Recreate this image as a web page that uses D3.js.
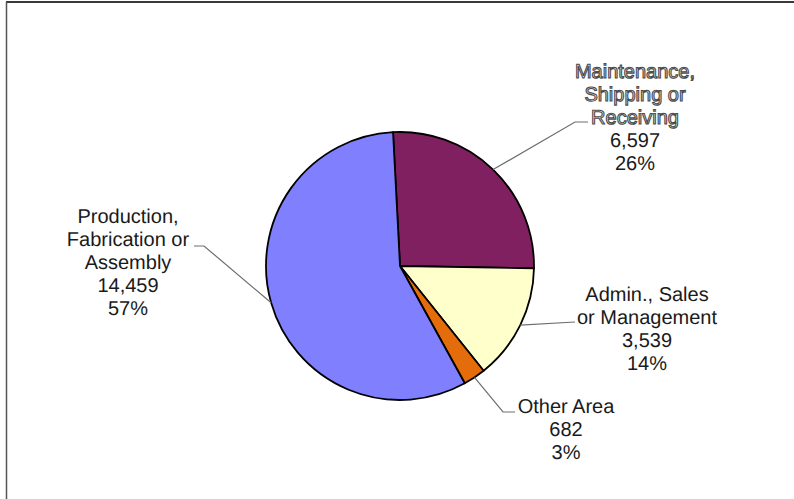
<!DOCTYPE html>
<html>
<head>
<meta charset="utf-8">
<script src="https://cdn.jsdelivr.net/npm/d3@7"></script>
<style>
  html, body { margin: 0; padding: 0; background: #fff; }
  svg { display: block; }
  text { text-rendering: geometricPrecision; }
</style>
</head>
<body>
<svg id="chart" width="794" height="499"></svg>
<script>
// Work area categories, case counts and shares
const categories = [
  ["Maintenance,", "Shipping or", "Receiving"],
  ["Admin., Sales", "or Management"],
  ["Other Area"],
  ["Production,", "Fabrication or", "Assembly"]
];
const values = [6597, 3539, 682, 14459];
const percents = ["26%", "14%", "3%", "57%"];
const colors = ["#802060", "#ffffcc", "#e46c0a", "#8080ff"];

// Label layout: anchor centre x, first baseline y, leader elbow and end
const labelLayout = [
  { x: 635, y: 78,  elbow: [575, 122], end: [588, 122], outlined: true },
  { x: 647, y: 301, elbow: null,        end: [575, 322], outlined: false },
  { x: 566, y: 413, elbow: [503, 412], end: [515, 412], outlined: false },
  { x: 128, y: 223, elbow: [204, 246], end: [194, 246], outlined: false }
];

const svg = d3.select("#chart");
const cx = 400, cy = 266, r = 134;
const lineH = 23;
const start = -0.052;

// Frame lines
svg.append("line").attr("x1", 6).attr("y1", 2).attr("x2", 794).attr("y2", 2)
  .attr("stroke", "#3a3a3a").attr("stroke-width", 2);
svg.append("line").attr("x1", 6.5).attr("y1", 2).attr("x2", 6.5).attr("y2", 499)
  .attr("stroke", "#555").attr("stroke-width", 1.5);

const pie = d3.pie().sort(null).value(d => d)
  .startAngle(start).endAngle(start + 2 * Math.PI);
const arcs = pie(values);
const arc = d3.arc().innerRadius(0).outerRadius(r);

const g = svg.append("g").attr("transform", `translate(${cx},${cy})`);
g.selectAll("path.slice").data(arcs).join("path")
  .attr("class", "slice")
  .attr("d", arc)
  .attr("fill", (d, i) => colors[i])
  .attr("stroke", "#000")
  .attr("stroke-width", 1.8)
  .attr("stroke-linejoin", "round");

// Leader lines from each slice's mid-angle on the rim
arcs.forEach((a, i) => {
  const mid = (a.startAngle + a.endAngle) / 2;
  const p0 = [cx + r * Math.sin(mid), cy - r * Math.cos(mid)];
  const L = labelLayout[i];
  const pts = [p0];
  if (L.elbow) pts.push(L.elbow);
  pts.push(L.end);
  svg.append("path")
    .attr("d", d3.line()(pts))
    .attr("fill", "none")
    .attr("stroke", "#6e6e6e")
    .attr("stroke-width", 1.2);
});

// Labels: category lines, count, percent
arcs.forEach((a, i) => {
  const L = labelLayout[i];
  const lines = categories[i].concat([d3.format(",")(values[i]), percents[i]]);
  const t = svg.append("text")
    .attr("text-anchor", "middle")
    .attr("font-family", "'Liberation Sans', Arial, sans-serif")
    .attr("font-size", 20)
    .attr("fill", "#1a1a1a");
  lines.forEach((s, k) => {
    const ts = t.append("tspan").attr("x", L.x).attr("y", L.y + k * lineH).text(s);
    if (L.outlined && k < categories[i].length) {
      ts.attr("fill", "#f2f2f2").attr("stroke", "#4a4a4a").attr("stroke-width", 1.1);
    }
  });
});
</script>
</body>
</html>
